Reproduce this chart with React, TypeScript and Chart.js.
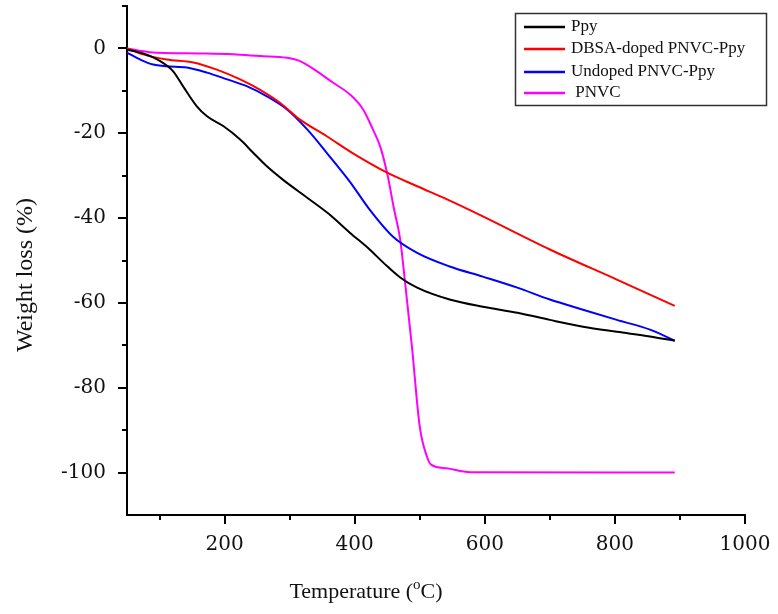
import React, { useEffect, useRef } from "react";
import { Chart, registerables } from "chart.js";

Chart.register(...registerables);

// ---- Data (Temperature °C, Weight loss %) ----
const ppyTemp = [50, 75, 101, 121, 136, 157, 173, 198, 224, 244, 265, 290, 327, 360, 393, 423, 444, 470, 496, 546, 597, 650, 700, 751, 803, 854, 892];
const ppyLoss = [-0.3, -1.2, -3, -5.4, -8.9, -13.6, -16, -18.3, -21.5, -24.6, -27.8, -31, -35.2, -39, -43.5, -47.4, -50.5, -54, -56.4, -59.2, -60.9, -62.3, -64, -65.6, -66.8, -67.9, -68.9];

const dbsaTemp = [50, 75, 111, 152, 188, 224, 254, 285, 316, 357, 398, 450, 496, 542, 597, 700, 803, 892];
const dbsaLoss = [0, -1.4, -2.6, -3.3, -5, -7.3, -9.7, -12.8, -16.8, -20.7, -24.8, -29.3, -32.5, -35.6, -39.6, -47.4, -54.5, -60.7];

const undopedTemp = [50, 70, 90, 111, 142, 173, 204, 234, 265, 296, 327, 357, 393, 423, 459, 496, 546, 597, 650, 700, 751, 803, 854, 892];
const undopedLoss = [-1, -2.6, -3.8, -4.2, -4.5, -5.7, -7.3, -8.9, -11.3, -14.4, -19.1, -24.6, -31.5, -38, -44.4, -48.2, -51.4, -53.8, -56.4, -59.2, -61.6, -64, -66.3, -68.9];

const pnvcTemp = [50, 85, 162, 213, 254, 296, 316, 342, 367, 393, 413, 428, 440, 451, 460, 470, 477, 488, 500, 511, 518, 541, 577, 892];
const pnvcLoss = [0, -0.9, -1.2, -1.4, -1.8, -2.2, -3, -5.4, -8.1, -10.9, -14.4, -19.1, -23.5, -30.2, -37.5, -45.1, -54.5, -70.3, -89.1, -96.2, -98.2, -99, -99.9, -100];

const seriesLabels = ["Ppy", "DBSA-doped PNVC-Ppy", "Undoped PNVC-Ppy", " PNVC"];
const seriesColors = ["#000000", "#ff0000", "#0000ff", "#ff00ff"];

const xMajorTicks = [200, 400, 600, 800, 1000];
const xMinorTicks = [100, 300, 500, 700, 900];
const yMajorTicks = [0, -20, -40, -60, -80, -100];
const yMinorTicks = [10, -10, -30, -50, -70, -90];

const xTitleMain = "Temperature (";
const xTitleSup = "o";
const xTitleEnd = "C)";
const yTitle = "Weight loss (%)";

const toPoints = (t: number[], v: number[]) => t.map((x, i) => ({ x, y: v[i] }));

const decorPlugin = {
  id: "decor",
  afterDraw(chart: any) {
    const ctx = chart.ctx as CanvasRenderingContext2D;
    const xs = chart.scales.x;
    const ys = chart.scales.y;
    const area = chart.chartArea;
    ctx.save();
    // ticks
    ctx.strokeStyle = "#000";
    ctx.lineWidth = 2;
    ctx.beginPath();
    yMajorTicks.forEach((v) => {
      const p = Math.round(ys.getPixelForValue(v));
      ctx.moveTo(area.left - 9, p);
      ctx.lineTo(area.left, p);
    });
    yMinorTicks.forEach((v) => {
      const p = Math.round(ys.getPixelForValue(v));
      ctx.moveTo(area.left - 5, p);
      ctx.lineTo(area.left, p);
    });
    xMajorTicks.forEach((v) => {
      const p = Math.round(xs.getPixelForValue(v));
      ctx.moveTo(p, area.bottom);
      ctx.lineTo(p, area.bottom + 9);
    });
    xMinorTicks.forEach((v) => {
      const p = Math.round(xs.getPixelForValue(v));
      ctx.moveTo(p, area.bottom);
      ctx.lineTo(p, area.bottom + 5);
    });
    ctx.stroke();

    // y title
    ctx.fillStyle = "#111";
    ctx.font = "24px 'Liberation Serif', 'Times New Roman', serif";
    ctx.textAlign = "center";
    ctx.textBaseline = "middle";
    ctx.save();
    ctx.translate(26, 275);
    ctx.rotate(-Math.PI / 2);
    ctx.fillText(yTitle, 0, 0);
    ctx.restore();

    // x title with superscript
    const mainFont = "22px 'Liberation Serif', 'Times New Roman', serif";
    const supFont = "15px 'Liberation Serif', 'Times New Roman', serif";
    ctx.textAlign = "left";
    ctx.textBaseline = "alphabetic";
    ctx.font = mainFont;
    const w1 = ctx.measureText(xTitleMain).width;
    const w3 = ctx.measureText(xTitleEnd).width;
    ctx.font = supFont;
    const w2 = ctx.measureText(xTitleSup).width;
    const total = w1 + w2 + w3;
    const x0 = 366 - total / 2;
    const base = 598;
    ctx.font = mainFont;
    ctx.fillText(xTitleMain, x0, base);
    ctx.font = supFont;
    ctx.fillText(xTitleSup, x0 + w1, base - 9);
    ctx.font = mainFont;
    ctx.fillText(xTitleEnd, x0 + w1 + w2, base);

    // legend
    ctx.strokeStyle = "#333";
    ctx.lineWidth = 1.5;
    ctx.strokeRect(515.5, 13.5, 251, 92);
    const rowY = [27, 49, 72, 93];
    ctx.font = "17px 'Liberation Serif', 'Times New Roman', serif";
    ctx.textBaseline = "middle";
    chart.data.datasets.forEach((ds: any, i: number) => {
      ctx.strokeStyle = ds.borderColor;
      ctx.lineWidth = 2.5;
      ctx.beginPath();
      ctx.moveTo(524, rowY[i]);
      ctx.lineTo(565, rowY[i]);
      ctx.stroke();
      ctx.fillStyle = "#111";
      ctx.fillText(ds.label, 571, rowY[i]);
    });
    ctx.restore();
  },
};

export default function App() {
  const ref = useRef<HTMLCanvasElement | null>(null);
  useEffect(() => {
    if (!ref.current) return;
    const temps = [ppyTemp, dbsaTemp, undopedTemp, pnvcTemp];
    const losses = [ppyLoss, dbsaLoss, undopedLoss, pnvcLoss];
    const chart = new Chart(ref.current, {
      type: "line",
      data: {
        datasets: seriesLabels.map((label, i) => ({
          label,
          data: toPoints(temps[i], losses[i]),
          borderColor: seriesColors[i],
          backgroundColor: seriesColors[i],
          borderWidth: 2,
          pointRadius: 0,
          cubicInterpolationMode: "monotone" as const,
          fill: false,
        })),
      },
      options: {
        animation: false,
        responsive: false,
        layout: { padding: { top: 6, right: 33, left: 0, bottom: 0 } },
        plugins: { legend: { display: false }, tooltip: { enabled: false } },
        scales: {
          x: {
            type: "linear",
            min: 50,
            max: 1000,
            afterBuildTicks: (s: any) => {
              s.ticks = xMajorTicks.map((v) => ({ value: v }));
            },
            afterFit: (s: any) => {
              s.height = 99;
              s.paddingLeft = 0;
              s.paddingRight = 0;
              s.paddingTop = 0;
              s.paddingBottom = 0;
            },
            grid: { display: true, drawOnChartArea: false, drawTicks: false },
            border: { display: true, color: "#000", width: 2 },
            ticks: {
              padding: 18,
              color: "#111",
              font: { family: "'DejaVu Serif', serif", size: 20 },
              maxRotation: 0,
              autoSkip: false,
              callback: (v: any) => String(v),
            },
          },
          y: {
            type: "linear",
            min: -110,
            max: 10,
            afterBuildTicks: (s: any) => {
              s.ticks = yMajorTicks.map((v) => ({ value: v }));
            },
            afterFit: (s: any) => {
              s.width = 127;
              s.paddingLeft = 0;
              s.paddingRight = 0;
              s.paddingTop = 0;
              s.paddingBottom = 0;
            },
            grid: { display: true, drawOnChartArea: false, drawTicks: false },
            border: { display: true, color: "#000", width: 2 },
            ticks: {
              padding: 21,
              color: "#111",
              font: { family: "'DejaVu Serif', serif", size: 20 },
              autoSkip: false,
              callback: (v: any) => String(v),
            },
          },
        },
      },
      plugins: [decorPlugin],
    });
    return () => chart.destroy();
  }, []);
  return (
    <div style={{ position: "absolute", left: 0, top: 0, width: 778, height: 614, background: "#fff" }}>
      <canvas ref={ref} width={778} height={614} />
    </div>
  );
}
